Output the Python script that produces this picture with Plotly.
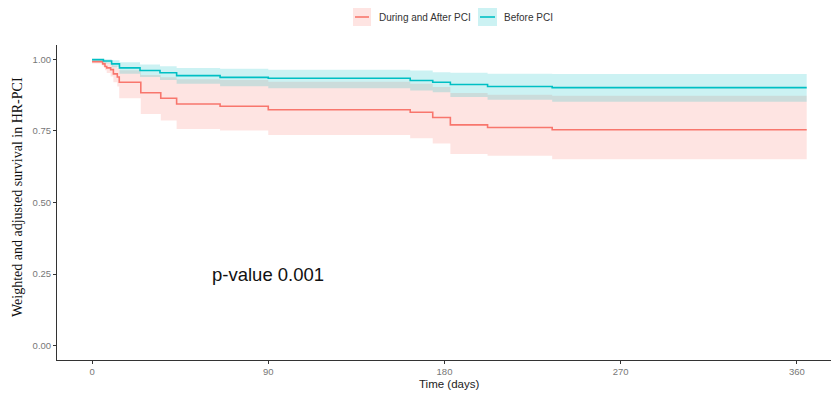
import plotly.graph_objects as go

# ---- data ----
red_t   = [0, 5.4, 6.6, 7.5, 9.5, 10.9, 12.9, 13.9, 24.9, 35.1, 43.2, 65.4, 90, 162.5, 174, 183, 202, 235, 365]
red_s   = [0.992, 0.984, 0.975, 0.970, 0.964, 0.949, 0.938, 0.920, 0.883, 0.864, 0.844, 0.836, 0.824, 0.815, 0.797, 0.771, 0.762, 0.754, 0.754]
red_lo  = [0.985, 0.975, 0.962, 0.952, 0.940, 0.920, 0.905, 0.864, 0.809, 0.786, 0.757, 0.751, 0.736, 0.724, 0.706, 0.669, 0.663, 0.651, 0.651]
red_hi  = [1.000, 0.996, 0.992, 0.988, 0.985, 0.978, 0.970, 0.962, 0.945, 0.937, 0.930, 0.928, 0.922, 0.915, 0.903, 0.882, 0.876, 0.873, 0.873]

teal_t  = [0, 5.8, 10, 14, 24.5, 34.7, 43.2, 65.4, 90, 162.5, 174, 183, 202, 235, 365]
teal_s  = [0.999, 0.994, 0.984, 0.970, 0.961, 0.953, 0.943, 0.937, 0.934, 0.926, 0.920, 0.912, 0.905, 0.901, 0.901]
teal_lo = [0.995, 0.985, 0.972, 0.950, 0.938, 0.928, 0.915, 0.906, 0.899, 0.891, 0.885, 0.868, 0.859, 0.852, 0.852]
teal_hi = [1.000, 1.000, 0.997, 0.990, 0.982, 0.976, 0.970, 0.967, 0.964, 0.961, 0.955, 0.953, 0.950, 0.949, 0.949]

x_ticks = [0, 90, 180, 270, 360]
y_ticks = [0.00, 0.25, 0.50, 0.75, 1.00]
y_tick_labels = ["0.00", "0.25", "0.50", "0.75", "1.00"]
groups = ["During and After PCI", "Before PCI"]
p_text = "p-value 0.001"

RED = "#F8766D"
TEAL = "#00BFC4"
RED_F = "rgba(248,118,109,0.2)"
TEAL_F = "rgba(0,191,196,0.2)"
SANS = "Liberation Sans, Arial, sans-serif"

fig = go.Figure()

def band(t, lo, hi, fillc):
    fig.add_trace(go.Scatter(x=t, y=lo, mode="lines", line=dict(width=0, shape="hv"),
                             showlegend=False, hoverinfo="skip"))
    fig.add_trace(go.Scatter(x=t, y=hi, mode="lines", line=dict(width=0, shape="hv"),
                             fill="tonexty", fillcolor=fillc, showlegend=False, hoverinfo="skip"))

band(red_t, red_lo, red_hi, RED_F)
band(teal_t, teal_lo, teal_hi, TEAL_F)

fig.add_trace(go.Scatter(x=red_t, y=red_s, mode="lines", name=groups[0],
                         line=dict(color=RED, width=1.6, shape="hv"), showlegend=False))
fig.add_trace(go.Scatter(x=teal_t, y=teal_s, mode="lines", name=groups[1],
                         line=dict(color=TEAL, width=1.6, shape="hv"), showlegend=False))

W, H = 831, 397
L, R, T, B = 57, 0, 45, 37

def px2paper_x(px):
    return (px - L) / (W - L - R)

def px2paper_y(py):
    return (H - B - py) / (H - T - B)

# manual legend (ggplot style key boxes)
keys = [(353, 371, RED_F, RED, 377, groups[0]), (478, 497, TEAL_F, TEAL, 502, groups[1])]
for x0, x1, fc, lc, tx, label in keys:
    fig.add_shape(type="rect", xref="paper", yref="paper",
                  x0=px2paper_x(x0), x1=px2paper_x(x1), y0=px2paper_y(26), y1=px2paper_y(8),
                  fillcolor=fc, line=dict(width=0), layer="above")
    fig.add_shape(type="line", xref="paper", yref="paper",
                  x0=px2paper_x(x0 + 2), x1=px2paper_x(x1 - 2), y0=px2paper_y(17), y1=px2paper_y(17),
                  line=dict(color=lc, width=1.6), layer="above")
    fig.add_annotation(xref="paper", yref="paper", x=px2paper_x(tx), y=px2paper_y(17),
                       text=label, showarrow=False, xanchor="left", yanchor="middle",
                       font=dict(family=SANS, size=10, color="#333333"))

fig.add_annotation(x=90, y=0.25, xref="x", yref="y", text=p_text, showarrow=False,
                   font=dict(family=SANS, size=18.5, color="#111111"))

fig.add_annotation(xref="paper", yref="paper", x=px2paper_x(449), y=px2paper_y(384),
                   text="Time (days)", showarrow=False, xanchor="center", yanchor="middle",
                   font=dict(family=SANS, size=11.5, color="#222222"))

fig.add_annotation(xref="paper", yref="paper", x=px2paper_x(18), y=px2paper_y(197),
                   text="Weighted and adjusted survival in HR-PCI", showarrow=False, textangle=-90,
                   xanchor="center", yanchor="middle",
                   font=dict(family="Liberation Serif, Times New Roman, serif", size=14, color="#111111"))

fig.update_layout(
    width=W, height=H,
    margin=dict(l=L, r=R, t=T, b=B, autoexpand=False),
    paper_bgcolor="white", plot_bgcolor="white",
    showlegend=False,
    xaxis=dict(range=[-17.9, 377.4], tickvals=x_ticks, ticks="outside", ticklen=3,
               tickcolor="#333333", showline=True, linecolor="#333333", linewidth=1,
               showgrid=False, zeroline=False, automargin=False,
               tickfont=dict(family=SANS, size=9.5, color="#777777")),
    yaxis=dict(range=[-0.05, 1.05], tickvals=y_ticks, ticktext=y_tick_labels, ticks="outside", ticklen=3,
               tickcolor="#333333", showline=True, linecolor="#333333", linewidth=1,
               showgrid=False, zeroline=False, automargin=False,
               tickfont=dict(family=SANS, size=9.5, color="#777777")),
)

fig.write_html("out.html", config={"displayModeBar": False},
               post_script="document.body.style.margin='0';document.body.style.padding='0';")
